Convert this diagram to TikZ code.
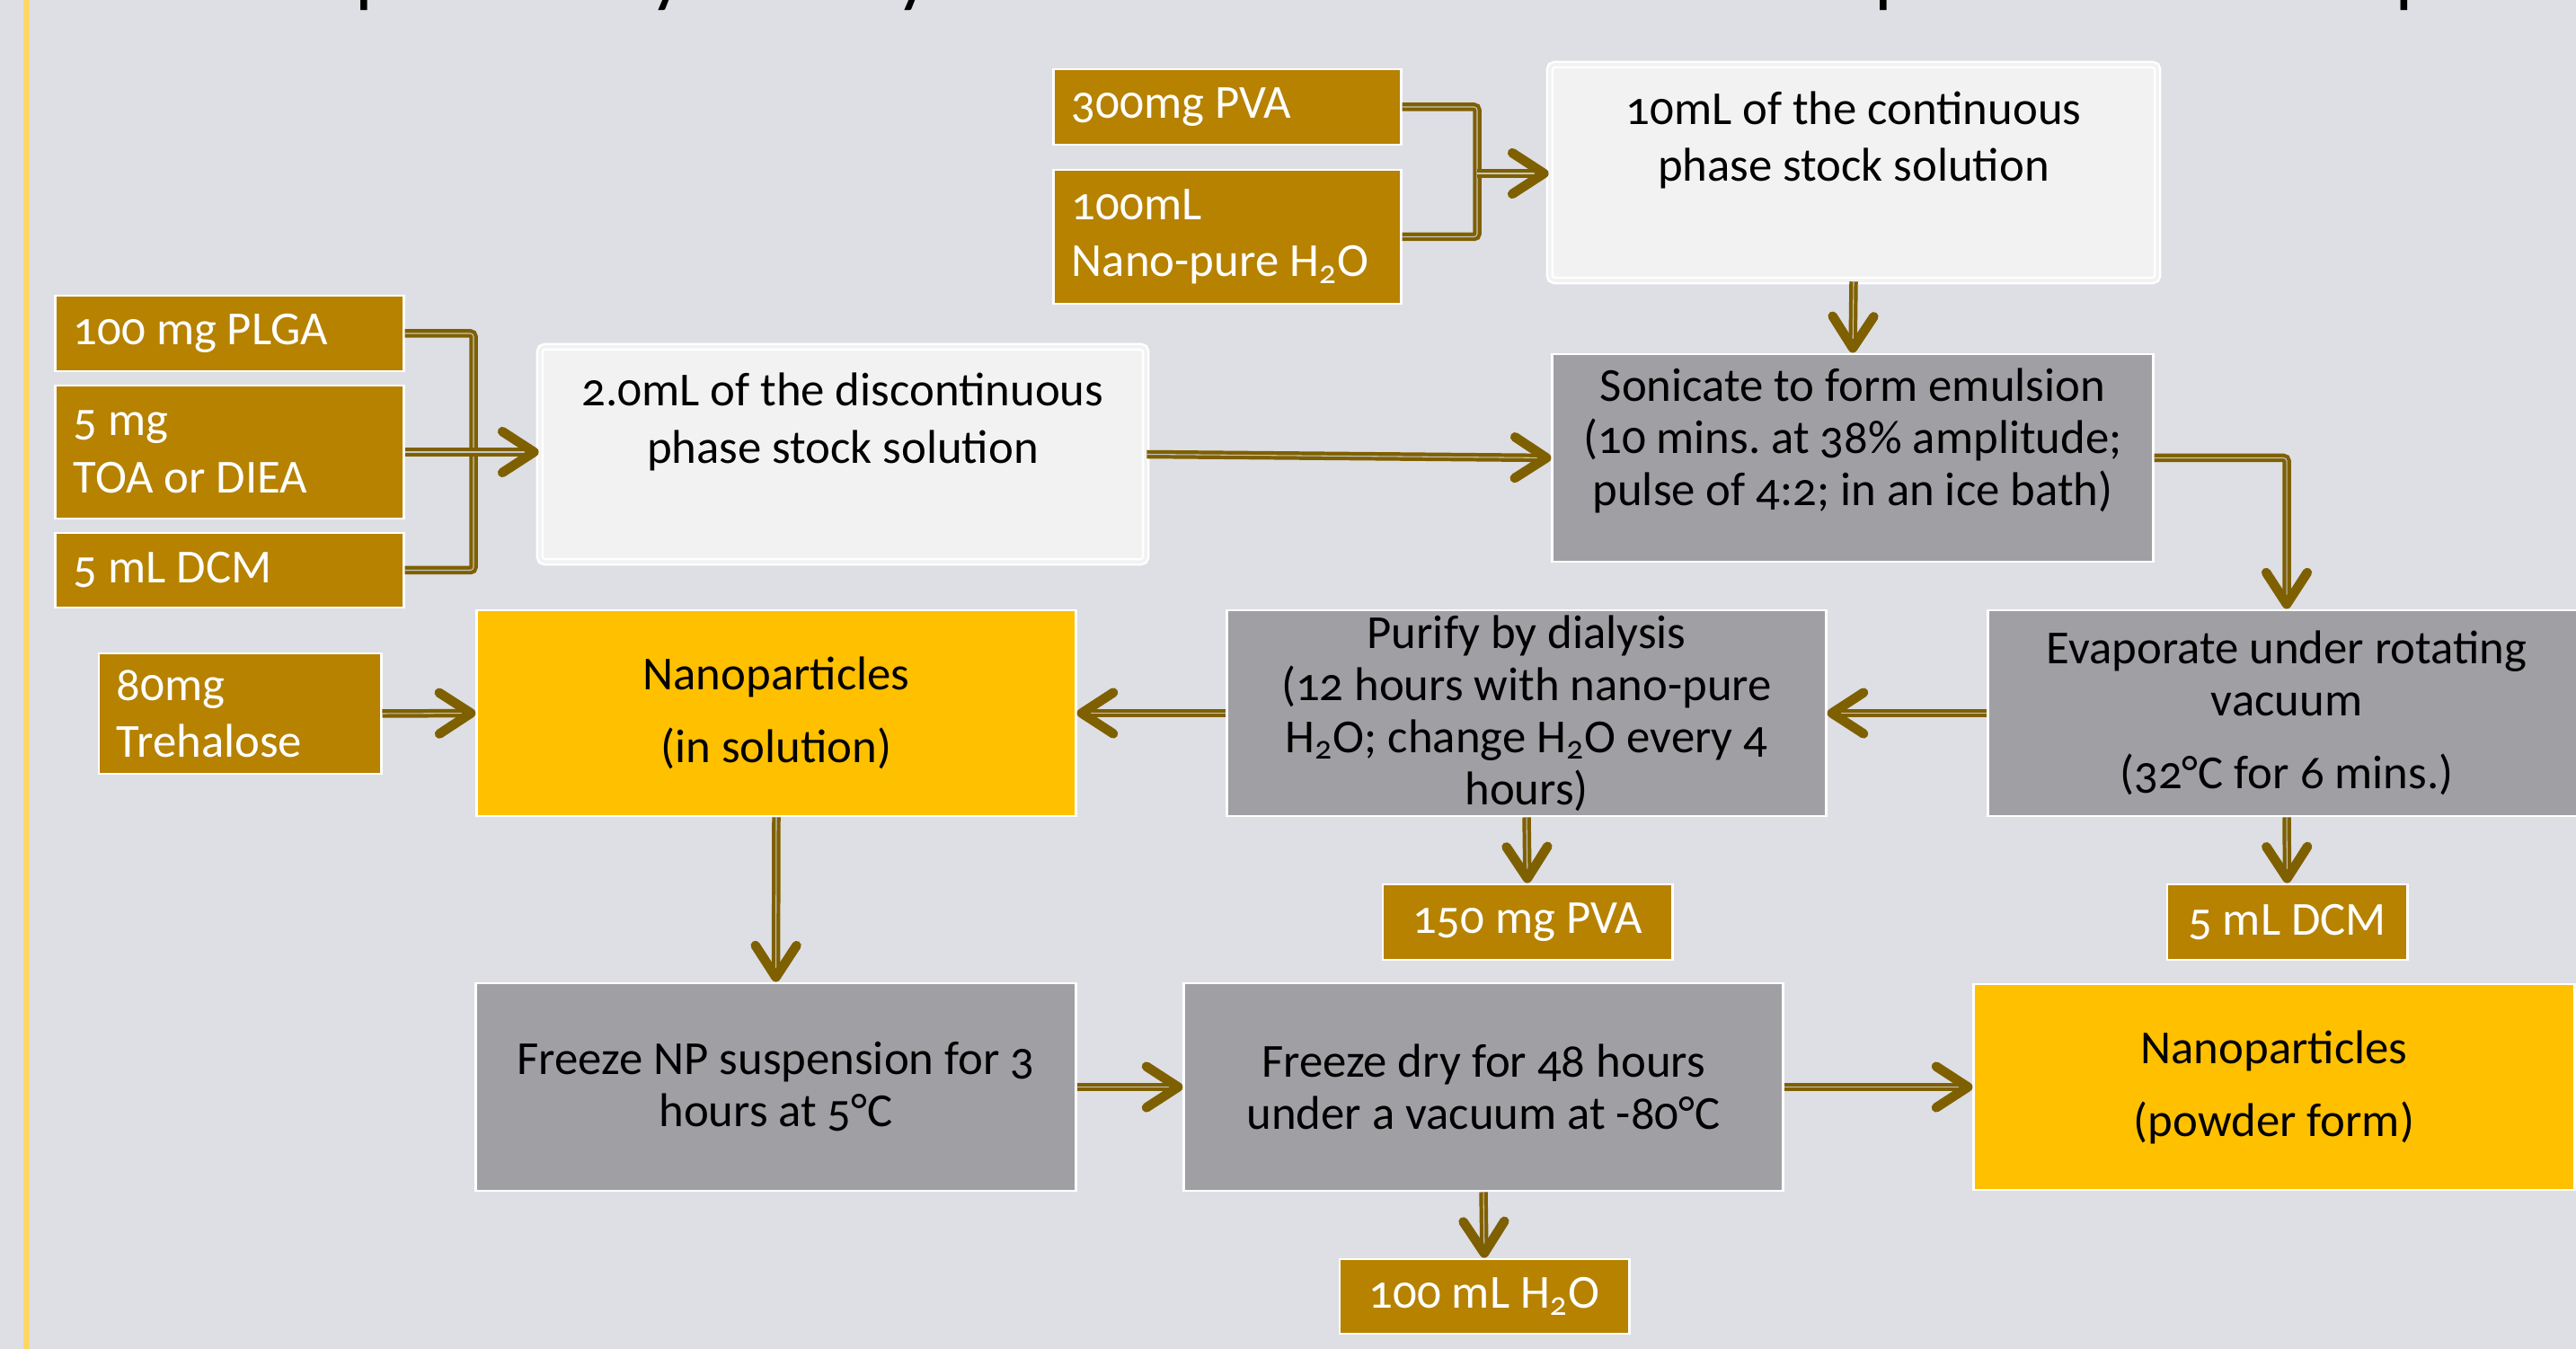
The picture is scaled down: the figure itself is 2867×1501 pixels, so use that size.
\documentclass[tikz,border=0pt]{standalone}
\usepackage{fontspec}
\setmainfont{Carlito}[Numbers=OldStyle]
\frenchspacing
\usetikzlibrary{arrows.meta}
\definecolor{slide}{RGB}{222,223,228}
\definecolor{gold}{RGB}{182,130,0}
\definecolor{wire}{RGB}{127,96,0}
\definecolor{stepgray}{RGB}{160,159,164}
\definecolor{amber}{RGB}{255,192,0}
\definecolor{paper}{RGB}{242,242,242}
\definecolor{edge}{RGB}{255,214,102}
\tikzset{
  ingredient/.style = {draw=white, line width=0.8pt, fill=gold, text=white,
    inner xsep=0.2cm, inner ysep=0pt, align=flush left,
    font=\fontsize{15}{18}\selectfont},
  stock/.style = {draw=white, line width=0.7pt, double=paper, double distance=1pt,
    rounded corners=1.5pt, fill=paper, inner sep=0pt, align=center,
    font=\fontsize{15}{18}\selectfont},
  process/.style = {draw=white, line width=0.8pt, fill=stepgray, inner sep=0pt,
    align=center, font=\fontsize{15}{16.5}\selectfont},
  product/.style = {process, fill=amber},
  link/.style = {draw=wire, line width=1.2pt, double=gray!45, double distance=0.3pt,
    rounded corners=1pt}
}
\tikzset{>={Straight Barb[round,length=10pt,width=13pt,line width=3pt]}}

\begin{document}
\begin{tikzpicture}[x=0.01cm,y=-0.01cm]
  \useasboundingbox (0,0) rectangle (2867,1501);
  \clip (0,0) rectangle (2867,1501);
  \fill[slide] (0,0) rectangle (2867,1501);
  \fill[edge] (26,0) rectangle (33,1501);
  % title, cut off at the top
  \node[anchor=base, font=\fontsize{25}{30}\selectfont] (title) at (1490,-2)
    {Nanoparticle System Synthesis: Emulsion Solvent Evaporation Technique};
  % continuous phase
  \node[ingredient, minimum width=3.86cm, minimum height=0.84cm, text width=3.46cm] (pva300) at (1366,119) {300mg PVA};
  \node[ingredient, minimum width=3.86cm, minimum height=1.49cm, text width=3.46cm] (h2o100) at (1366,263.5) {100mL\\Nano-pure H\textsubscript{2}O};
  \node[stock, minimum width=6.76cm, minimum height=2.4cm, text depth=23pt] (cont) at (2063,192) {10mL of the continuous\\phase stock solution};
  % discontinuous phase
  \node[ingredient, minimum width=3.87cm, minimum height=0.84cm, text width=3.47cm] (plga) at (255.5,371) {100 mg PLGA};
  \node[ingredient, minimum width=3.87cm, minimum height=1.48cm, text width=3.47cm] (toa) at (255.5,503) {5 mg\\TOA or DIEA};
  \node[ingredient, minimum width=3.87cm, minimum height=0.83cm, text width=3.47cm] (dcm) at (255.5,634.5) {5 mL DCM};
  \node[stock, minimum width=6.74cm, minimum height=2.39cm, text depth=23pt] (disc) at (938,505.5) {2.0mL of the discontinuous\\phase stock solution};
  % process steps
  \node[process, minimum width=6.68cm, minimum height=2.31cm, text depth=13.5pt] (soni) at (2062,509.5) {Sonicate to form emulsion\\(10 mins. at 38\% amplitude;\\pulse of 4:2; in an ice bath)};
  \node[process, minimum width=6.64cm, minimum height=2.29cm] (evap) at (2545,793.5) {Evaporate under rotating\\vacuum\\[6.5pt](32°C for 6 mins.)};
  \node[process, minimum width=6.66cm, minimum height=2.29cm] (purify) at (1699,793.5) {Purify by dialysis\\(12 hours with nano-pure\\H\textsubscript{2}O; change H\textsubscript{2}O every 4\\hours)};
  \node[product, minimum width=6.66cm, minimum height=2.29cm] (npsol) at (864,793.5) {Nanoparticles\\[6.5pt](in solution)};
  \node[ingredient, minimum width=3.14cm, minimum height=1.34cm, text width=2.74cm] (treh) at (267,794) {80mg\\Trehalose};
  \node[process, minimum width=6.67cm, minimum height=2.31cm] (freeze) at (863.5,1209.5) {Freeze NP suspension for 3\\hours at 5°C};
  \node[process, minimum width=6.66cm, minimum height=2.31cm] (dry) at (1651,1209.5) {Freeze dry for 48 hours\\under a vacuum at -80°C};
  \node[product, minimum width=6.68cm, minimum height=2.29cm] (powder) at (2531,1209.5) {Nanoparticles\\[6.5pt](powder form)};
  % removed material
  \node[ingredient, align=center, minimum width=3.22cm, minimum height=0.84cm] (pva150) at (1700,1026) {150 mg PVA};
  \node[ingredient, align=center, minimum width=2.67cm, minimum height=0.84cm] (dcm2) at (2545.5,1026) {5 mL DCM};
  \node[ingredient, align=center, minimum width=3.22cm, minimum height=0.83cm] (water) at (1652,1442.5) {100 mL H\textsubscript{2}O};
  % connectors
  \coordinate (j1) at (1644,193);
  \coordinate (j2) at (527,503);
  \draw[link] (pva300.east) -| (j1) |- (h2o100.east);
  \draw[link,->] (j1) -- (j1 -| cont.west);
  \draw[link] (plga.east) -| (j2) |- (dcm.east);
  \draw[link,->] (toa.east) -- (toa.east -| disc.west);
  \draw[link,->] (disc.east) -- (soni.west);
  \draw[link,->] (cont.south) -- (soni.north);
  \draw[link,->] (soni.east) -| (evap.north);
  \draw[link,->] (evap.west) -- (purify.east);
  \draw[link,->] (purify.west) -- (npsol.east);
  \draw[link,->] (treh.east) -- (npsol.west);
  \draw[link,->] (npsol.south) -- (freeze.north);
  \draw[link,->] (freeze.east) -- (dry.west);
  \draw[link,->] (dry.east) -- (powder.west);
  \draw[link,->] (purify.south) -- (pva150.north);
  \draw[link,->] (evap.south) -- (dcm2.north);
  \draw[link,->] (dry.south) -- (water.north);
\end{tikzpicture}
\end{document}
